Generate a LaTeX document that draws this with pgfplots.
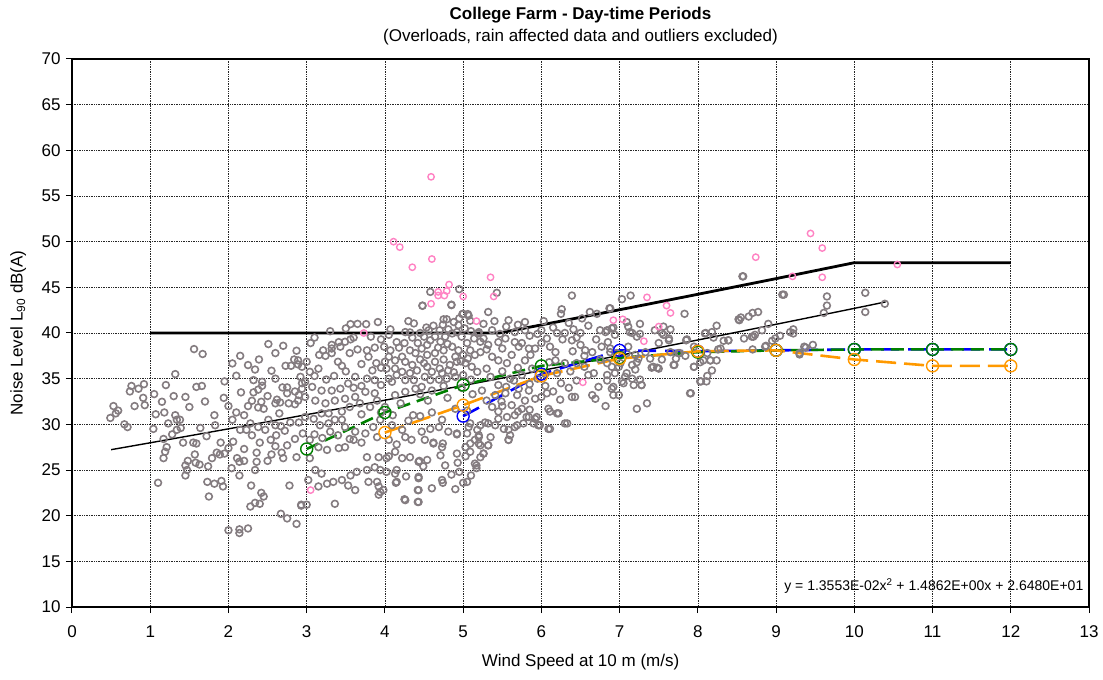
\documentclass[border=0pt]{standalone}
\usepackage{fontspec}
\setmainfont{Liberation Sans}
\usepackage{pgfplots}
\pgfplotsset{compat=1.18}
\definecolor{ptgrey}{RGB}{132,124,128}
\definecolor{ptpink}{RGB}{255,130,195}
\definecolor{sgreen}{RGB}{0,128,0}
\definecolor{sblue}{RGB}{0,0,255}
\definecolor{sorange}{RGB}{255,153,0}
\begin{document}
\begin{tikzpicture}
\begin{axis}[
  scale only axis, width=1017pt, height=548pt,
  xmin=0, xmax=13, ymin=10, ymax=70,
  xtick={0,1,...,13}, ytick={10,15,...,70},
  xtick pos=bottom, ytick pos=left,
  grid=major, major grid style={black!85, line width=0.7pt, densely dotted},
  axis line style={black, line width=1.5pt},
  tick style={black, line width=1pt}, major tick length=6pt, tick align=outside,
  tick label style={font=\fontsize{17}{20}\selectfont},
  x tick label style={yshift=-9pt},
  y tick label style={xshift=-2pt},
  /pgf/number format/assume math mode=true,
  xlabel={Wind Speed at 10 m (m/s)},
  ylabel={Noise Level L\textsubscript{90} dB(A)},
  label style={font=\fontsize{17}{20}\selectfont},
  xlabel style={at={(axis description cs:0.5,-0.1)}, anchor=center},
  ylabel style={at={(axis description cs:-0.053,0.5)}, anchor=center},
]
% measured points (grey)
\addplot[only marks, mark=o, mark size=3.4pt, mark options={ptgrey, line width=1.6pt}] table {
x y
2.51 38.79
1.56 38.24
1.67 37.7
2.87 38.06
2.84 37.1
2.39 37.1
2.05 36.67
2.25 36.49
2.34 36.0
2.55 35.87
2.73 36.41
2.8 36.41
2.89 36.56
2.1 35.32
2.32 34.84
2.43 34.66
2.43 34.22
1.32 35.5
0.76 34.2
0.85 33.9
0.92 34.4
0.74 33.6
1.05 33.31
0.91 32.9
1.3 33.09
1.59 34.1
1.66 34.2
1.94 32.9
2.16 33.5
2.32 33.5
2.38 33.8
2.69 34.04
2.75 34.04
2.75 33.4
2.85 33.6
2.94 34.5
2.9 33.2
2.3 32.58
2.42 32.47
2.62 32.7
2.6 32.3
2.66 32.4
2.77 32.3
2.85 32.2
2.38 31.85
2.45 31.7
1.15 32.47
0.93 32.1
0.8 32.0
0.53 32.0
0.59 31.5
0.56 31.2
0.49 30.7
0.67 30.0
0.71 29.7
1.07 31.1
1.18 31.3
1.32 31.0
1.34 30.5
1.38 30.5
1.23 30.1
1.39 29.6
1.34 29.4
1.28 28.9
1.04 29.5
1.64 29.6
1.82 31.0
1.83 29.9
1.72 28.7
2.05 30.5
2.28 30.1
2.38 29.7
2.47 29.4
2.51 30.5
2.6 29.9
2.67 29.8
2.72 29.3
2.79 30.2
2.9 30.2
2.15 29.4
2.23 29.4
2.3 28.8
2.4 28.0
2.54 28.3
2.61 28.8
1.17 28.4
1.42 28.0
1.55 28.0
1.59 27.9
1.21 27.5
1.19 27.0
1.17 26.3
1.48 26.0
1.57 26.7
1.58 25.8
1.63 25.6
1.45 25.5
1.45 24.4
1.47 25.0
1.79 26.3
1.85 26.9
1.89 26.7
1.95 26.8
1.74 25.4
2.06 28.1
2.11 26.3
2.14 25.9
2.04 25.2
2.14 24.4
2.36 26.9
2.36 25.9
2.34 25.0
2.55 26.7
2.68 26.9
2.7 26.3
2.87 26.4
2.29 23.3
2.42 22.5
2.45 22.1
2.34 21.4
2.28 21.0
2.4 21.3
2.78 23.3
2.93 21.2
2.67 20.2
2.75 19.7
2.87 19.1
2.25 18.6
2.14 18.5
2.14 18.1
1.73 23.7
1.82 23.5
1.91 23.8
1.93 23.2
1.75 22.1
1.1 23.6
4.48 42.98
4.85 43.05
3.56 40.97
3.76 40.97
3.91 41.2
4.3 41.3
4.37 41.05
4.53 40.6
4.07 40.4
4.26 40.1
4.32 40.06
4.81 40.4
4.94 40.86
5.06 42.07
4.99 42.07
5.09 41.34
4.79 41.5
4.92 40.1
3.49 39.04
3.56 39.3
3.6 39.5
3.43 38.5
3.32 37.8
3.16 37.6
3.24 37.5
3.4 36.85
3.32 38.3
3.77 38.1
3.87 38.4
3.99 38.5
4.07 38.1
4.05 37.4
4.0 36.85
4.02 36.1
3.89 36.7
3.79 37.4
4.13 36.1
4.22 37.4
4.13 37.0
4.26 36.85
4.32 38.1
4.39 37.8
4.47 38.3
4.54 38.7
4.58 39.2
4.64 39.6
4.71 39.04
4.77 39.6
4.86 39.95
4.98 39.6
5.05 38.9
5.09 38.1
5.15 37.6
5.22 39.04
5.19 39.95
4.54 37.6
4.64 37.8
4.75 38.1
4.86 38.5
4.94 38.1
5.0 37.6
4.64 36.85
4.75 37.1
4.83 36.5
4.92 36.85
5.03 36.7
5.11 36.3
5.18 35.75
4.54 36.3
4.6 35.75
4.73 35.6
4.81 35.9
4.51 35.2
4.41 35.9
4.32 35.6
4.22 35.75
4.26 34.84
4.37 34.84
4.47 34.1
4.58 34.84
4.69 34.9
4.79 35.0
4.9 35.2
4.39 33.9
4.26 33.56
4.13 33.2
4.09 34.66
3.87 34.84
3.77 35.0
3.62 35.2
3.53 34.47
3.43 33.9
3.32 33.7
3.19 33.7
3.07 34.1
2.98 34.66
2.94 33.9
2.89 32.6
2.98 33.0
3.11 32.6
3.24 32.3
3.36 32.6
3.49 32.8
3.62 33.0
3.75 33.56
3.87 33.4
3.68 32.3
3.81 31.9
3.19 31.2
3.28 31.2
3.36 30.5
3.45 30.5
3.28 30.1
3.17 29.9
3.09 30.6
2.98 30.8
3.49 29.7
3.62 29.2
3.75 29.0
3.85 29.7
3.94 30.5
4.09 29.9
4.22 29.4
4.26 28.6
4.34 28.3
4.47 29.2
4.58 29.5
4.69 29.7
4.81 29.2
4.92 29.0
5.07 29.7
5.18 29.4
5.15 28.3
5.03 27.5
4.92 26.8
4.62 27.9
4.73 27.5
4.54 26.1
4.43 25.9
4.32 26.4
4.13 27.0
4.02 26.3
3.92 26.4
3.87 25.3
3.77 25.0
3.64 24.8
3.56 24.4
3.45 23.9
3.34 23.7
3.26 23.5
3.19 24.6
3.11 25.0
3.02 23.9
3.15 23.2
3.04 26.3
3.41 27.4
3.49 27.5
3.6 28.3
3.26 27.2
3.15 27.5
3.04 28.3
3.77 26.4
3.94 25.0
4.02 24.8
4.13 24.6
3.92 23.2
3.94 22.6
3.79 23.7
3.62 22.8
3.53 23.3
4.15 23.7
4.43 24.25
4.43 22.8
4.73 23.9
4.26 21.7
4.43 21.5
3.36 21.3
2.93 21.1
2.89 37.0
3.0 36.85
2.94 36.3
3.04 35.75
3.15 36.1
2.92 35.2
3.21 38.1
3.32 38.7
3.41 39.0
4.36 31.0
4.73 30.5
5.09 30.1
5.28 30.2
5.41 29.9
5.52 29.5
5.69 29.9
5.81 30.8
5.94 30.8
6.11 29.5
6.22 31.2
6.33 30.1
5.98 29.9
5.6 28.8
5.58 28.3
5.35 28.6
5.2 28.6
5.05 29.0
4.92 28.9
5.09 27.9
5.22 27.7
5.32 27.7
5.09 27.0
5.26 26.8
5.03 26.5
5.15 25.7
5.17 25.2
4.93 25.8
4.77 25.5
4.71 26.6
4.62 28.0
4.51 28.3
4.74 27.9
4.49 25.4
4.44 26.0
4.43 24.1
4.42 22.8
4.42 21.5
4.25 21.8
4.14 23.6
4.27 24.3
4.74 23.6
4.22 26.3
4.15 25.0
4.05 26.5
3.9 23.7
3.98 22.8
3.92 22.3
5.43 44.4
6.39 44.1
7.03 43.7
7.14 44.1
5.32 42.3
5.58 41.4
5.79 41.2
6.26 42.6
6.25 42.1
6.03 41.3
6.52 41.6
6.62 42.3
6.71 42.1
6.88 42.7
7.09 41.2
7.11 40.7
7.26 41.0
5.26 41.0
5.2 40.1
5.37 40.3
5.47 39.9
5.66 40.1
5.79 40.3
6.0 40.3
6.07 39.4
6.2 40.0
6.3 40.0
6.41 40.4
6.5 40.0
6.75 40.3
6.84 40.3
6.9 40.5
6.94 39.8
7.16 40.0
7.26 39.9
7.45 40.3
7.54 40.0
7.63 39.2
7.5 38.9
5.26 39.4
5.32 38.7
5.45 39.0
5.54 39.4
5.66 39.0
5.71 38.5
5.84 38.3
5.92 38.3
6.0 38.9
6.11 38.5
6.18 37.9
6.27 39.3
6.39 39.2
6.5 38.7
6.56 38.1
6.65 37.9
6.77 38.5
6.88 37.9
7.11 38.5
7.2 37.6
7.22 36.8
7.33 37.9
7.41 36.2
7.48 36.2
5.22 37.9
5.37 37.4
5.45 37.0
5.56 36.7
5.62 37.6
5.79 37.0
5.86 37.6
6.18 37.0
6.3 36.7
6.45 36.7
6.2 35.6
6.37 35.8
6.6 35.4
6.67 35.6
6.84 35.4
6.9 36.3
6.99 36.3
7.07 35.2
7.16 35.0
7.28 34.3
7.05 34.5
6.73 34.1
6.9 33.9
6.92 33.2
6.99 33.2
6.65 33.2
6.69 32.8
6.82 32.0
6.39 33.0
6.43 33.0
6.24 32.7
7.22 31.7
7.35 32.3
6.09 31.7
6.11 31.4
6.2 31.2
6.3 30.1
6.09 29.5
5.96 29.9
5.92 30.6
6.0 33.0
6.07 33.4
5.92 32.8
5.84 33.7
5.71 33.9
5.69 33.2
5.79 32.6
5.75 31.7
5.62 32.1
5.49 32.5
5.41 33.2
5.54 33.4
5.24 33.7
5.37 31.9
5.45 31.4
5.56 30.8
5.66 31.0
5.84 30.8
5.9 30.1
5.77 30.1
5.66 29.7
5.58 29.4
5.32 30.1
5.22 29.9
5.45 30.6
5.58 28.3
5.32 27.7
5.2 27.9
5.2 28.8
5.26 26.8
5.22 26.4
5.17 25.5
8.58 46.2
7.83 42.1
9.1 44.2
9.65 44.0
9.65 43.0
9.61 42.2
10.14 44.4
10.14 42.3
10.39 43.2
8.77 42.3
8.7 42.2
8.65 41.8
8.53 41.4
8.24 40.8
8.18 40.1
8.1 40.0
8.9 41.0
8.82 40.3
8.73 39.8
8.69 39.6
8.59 39.4
8.99 39.4
8.95 39.15
9.05 39.7
9.18 40.1
9.22 40.4
9.22 39.95
8.39 39.2
8.33 39.15
8.29 38.3
8.26 38.2
8.86 38.5
8.7 38.2
9.38 38.4
9.47 38.7
9.3 37.65
7.65 40.4
7.56 40.7
7.63 39.4
7.86 39.3
7.95 38.5
8.12 37.8
8.07 37.0
8.16 37.0
8.24 37.0
7.95 36.3
7.7 36.5
7.72 37.2
7.77 37.8
7.84 37.5
8.12 35.3
8.04 34.7
7.91 33.4
6.92 40.6
6.82 40.1
7.13 40.1
7.22 39.6
7.56 39.8
7.85 39.2
8.2 39.5
8.09 39.95
8.39 39.2
8.71 39.6
8.87 38.6
9.36 38.5
9.3 37.8
6.88 38.3
6.96 37.8
7.09 37.8
7.24 37.2
7.39 37.2
7.54 37.1
7.65 37.9
7.75 37.8
8.16 37.0
8.03 36.8
6.84 36.7
7.01 36.7
7.16 36.5
6.94 35.6
7.09 35.6
7.2 36.0
7.43 36.3
7.5 36.1
7.69 36.5
8.18 35.9
6.84 34.8
6.92 34.1
7.03 34.7
7.18 34.3
7.26 34.9
7.28 34.3
7.95 36.3
8.11 34.7
8.03 34.7
7.9 33.4
4.58 44.5
4.95 44.8
4.48 43.0
4.85 43.1
5.0 42.1
5.07 41.9
4.75 41.5
6.87 42.7
8.57 46.2
9.08 44.2
8.52 41.5
8.55 41.7
3.0 21.2
2.0 18.4
3.55 37.8
3.65 38.2
3.7 36.6
3.82 39.6
3.95 39.3
4.05 39.8
4.15 39.0
4.18 38.4
4.25 38.9
4.35 39.5
4.42 38.9
4.45 40.0
4.5 39.6
4.56 40.3
4.62 40.8
4.7 40.3
4.74 40.9
4.88 41.2
4.95 41.6
5.02 40.5
5.1 40.2
5.14 39.4
4.68 38.4
4.8 38.8
4.9 37.4
4.97 36.9
5.06 37.2
4.45 37.1
4.35 36.5
4.5 36.7
4.7 36.1
4.88 35.7
5.0 35.4
5.1 34.9
4.15 35.4
4.05 35.0
3.95 34.3
3.7 34.2
3.6 34.0
3.5 35.8
3.45 36.4
3.35 35.3
3.25 34.9
3.1 35.3
3.95 36.2
3.84 35.9
4.45 33.3
4.6 33.7
4.75 34.2
4.98 34.0
5.12 33.3
4.55 32.6
4.8 32.9
4.2 32.3
4.0 31.9
3.9 32.6
3.55 31.9
3.45 31.4
3.7 31.1
3.95 31.3
4.1 31.0
4.3 30.4
4.45 30.9
4.6 31.3
4.9 31.7
5.05 31.5
3.3 29.2
3.4 28.8
3.55 28.4
3.7 28.0
3.9 28.6
4.05 28.3
4.15 27.8
3.1 28.9
3.2 28.5
2.95 29.0
2.85 28.4
2.75 27.7
2.6 27.6
2.5 26.0
2.2 27.3
2.2 26.0
2.0 27.4
1.9 28.0
2.1 31.3
2.2 31.0
2.25 32.0
2.5 33.1
2.6 35.0
2.65 31.2
2.0 32.0
1.7 32.5
1.5 31.9
1.45 33.0
1.2 34.3
1.95 34.7
2.15 37.5
2.6 37.8
2.7 38.6
3.05 38.9
3.1 39.5
3.3 40.2
3.5 40.5
3.65 41.0
5.3 36.1
5.35 35.2
5.5 35.8
5.6 35.0
5.7 36.2
5.75 35.4
5.88 36.1
5.95 35.0
6.05 35.5
6.1 36.8
6.25 34.5
6.35 34.0
6.45 34.8
6.55 36.3
5.45 34.3
5.55 34.1
5.65 34.8
5.85 34.4
6.05 34.2
6.15 33.6
5.3 32.6
5.5 32.0
5.7 31.4
5.85 31.6
5.4 41.3
5.55 40.7
5.7 40.9
5.85 39.7
5.95 39.9
6.15 40.6
6.35 41.1
6.6 40.8
6.45 39.5
6.7 39.3
6.85 39.0
5.3 38.2
5.5 38.3
5.75 38.9
6.4 38.0
6.55 37.5
6.75 37.1
5.1 24.4
5.05 23.7
4.95 24.8
4.85 24.5
4.6 23.0
4.9 22.9
5.0 23.6
}; 
% excluded / outlier points (pink)
\addplot[only marks, mark=o, mark size=3.2pt, mark options={ptpink, line width=1.4pt}] table {
x y
4.59 57.1
4.11 50.0
4.19 49.4
4.35 47.2
4.60 48.1
5.35 46.1
4.82 45.3
4.79 44.6
4.68 44.5
4.68 44.1
4.76 44.1
4.59 43.2
5.0 44.0
5.39 44.0
7.35 43.9
7.6 43.0
7.65 42.2
7.04 41.5
9.44 50.9
9.59 49.3
8.74 48.3
9.21 46.2
9.59 46.1
10.55 47.5
3.73 40.0
3.05 22.8
5.17 41.3
6.92 41.4
6.53 34.6
7.31 39.1
7.5 40.7
};
% upper limit (thick)
\addplot[black, line width=2.8pt] coordinates {
(1,40) (5.46,40) (6,40.885) (7,42.547) (8,44.237) (9,45.954) (10,47.697) (12,47.697)};
% regression fit (thin)
\addplot[black, line width=1.4pt, smooth] coordinates {
(0.5,27.227) (1,27.980) (2,29.507) (3,31.061) (4,32.642) (5,34.250) (6,35.885)
(7,37.547) (8,39.237) (9,40.954) (10,42.697) (10.4,43.402)};
% blue
\addplot[sblue, line width=2.6pt, dash pattern=on 18pt off 9pt,
  mark=o, mark size=6pt, mark options={solid, line width=1.4pt, fill=white}] coordinates {
(5,30.9) (6,35.5) (7,38.1) (8,38.0) (9,38.1) (10,38.2) (11,38.2) (12,38.2)};
% green
\addplot[sgreen, line width=2.6pt, dash pattern=on 13pt off 7pt,
  mark=o, mark size=6pt, mark options={solid, line width=1.4pt, fill=white}] coordinates {
(3,27.3) (4,31.3) (5,34.3) (6,36.4) (7,37.3) (8,37.9) (9,38.1) (10,38.2) (11,38.2) (12,38.2)};
% orange
\addplot[sorange, line width=2.6pt, dash pattern=on 20pt off 8pt,
  mark=o, mark size=6pt, mark options={solid, line width=1.4pt, fill=white}] coordinates {
(4,29.1) (5,32.1) (6,35.3) (7,37.2) (8,38.0) (9,38.1) (10,37.1) (11,36.4) (12,36.4)};
\node[anchor=east, font=\fontsize{14}{16}\selectfont, inner sep=0pt] at (axis cs:12.93,12.3)
  {y = 1.3553E-02x\textsuperscript{2} + 1.4862E+00x + 2.6480E+01};
\end{axis}
\node[font=\bfseries\fontsize{17}{20}\selectfont] at ([yshift=44pt]current axis.north) {College Farm - Day-time Periods};
\node[font=\fontsize{17}{20}\selectfont] at ([yshift=22pt]current axis.north) {(Overloads, rain affected data and outliers excluded)};
\pgfresetboundingbox
\useasboundingbox ([xshift=-72pt,yshift=-72pt]current axis.south west) rectangle ([xshift=14pt,yshift=59pt]current axis.north east);
\end{tikzpicture}
\end{document}
